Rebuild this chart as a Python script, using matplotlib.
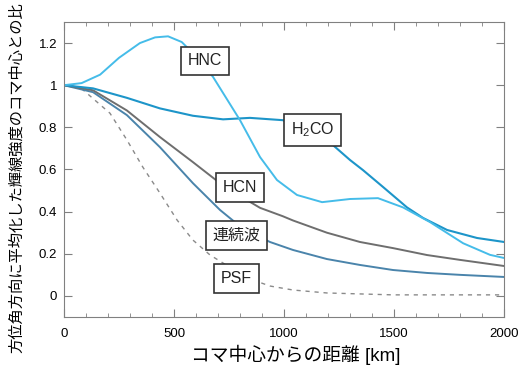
import matplotlib
matplotlib.use('Agg')
import matplotlib.pyplot as plt
from matplotlib.ticker import MultipleLocator

plt.rcParams['font.family'] = ['Liberation Sans', 'Noto Sans CJK JP', 'DejaVu Sans']
plt.rcParams['mathtext.fontset'] = 'custom'
plt.rcParams['mathtext.rm'] = 'Liberation Sans'

# values (km, ratio)
hnc_x = [0, 80, 164, 250, 345, 414, 473, 535, 588, 677, 800, 891, 968, 1059, 1173, 1300, 1427, 1541, 1664, 1814, 1936, 2000]
hnc_y = [1.0, 1.01, 1.05, 1.13, 1.20, 1.227, 1.232, 1.205, 1.15, 1.04, 0.834, 0.659, 0.55, 0.479, 0.445, 0.46, 0.464, 0.42, 0.35, 0.25, 0.195, 0.18]

h2co_x = [0, 132, 286, 436, 586, 723, 845, 995, 1100, 1209, 1300, 1359, 1450, 1559, 1632, 1741, 1877, 2000]
h2co_y = [1.0, 0.985, 0.94, 0.89, 0.855, 0.838, 0.845, 0.834, 0.79, 0.728, 0.645, 0.597, 0.517, 0.42, 0.37, 0.313, 0.275, 0.256]

hcn_x = [0, 132, 286, 436, 586, 709, 823, 891, 995, 1041, 1195, 1345, 1495, 1650, 1800, 2000]
hcn_y = [1.0, 0.976, 0.88, 0.754, 0.635, 0.535, 0.46, 0.418, 0.378, 0.358, 0.30, 0.256, 0.227, 0.194, 0.171, 0.142]

cont_x = [0, 132, 286, 436, 586, 709, 777, 850, 936, 1041, 1195, 1345, 1495, 1650, 1800, 2000]
cont_y = [1.0, 0.967, 0.858, 0.706, 0.535, 0.408, 0.35, 0.30, 0.256, 0.218, 0.175, 0.147, 0.123, 0.109, 0.10, 0.09]

psf_x = [0, 73, 209, 286, 359, 436, 514, 586, 664, 723, 820, 936, 1041, 1195, 1495, 2000]
psf_y = [1.0, 0.99, 0.867, 0.74, 0.61, 0.488, 0.36, 0.265, 0.194, 0.156, 0.09, 0.047, 0.028, 0.014, 0.005, 0.005]

labels = ['HNC', 'H$_2$CO', 'HCN', '連続波', 'PSF']
label_x = [641, 1130, 800, 784, 784]
label_y = [1.116, 0.787, 0.514, 0.287, 0.083]

fig = plt.figure(figsize=(5.22, 3.66), dpi=100)
ax = fig.add_axes([0.1226, 0.1339, 0.843, 0.806])

ax.plot(psf_x, psf_y, color='#8a8a8a', lw=1.0, ls=(0, (3, 3.5)))
ax.plot(cont_x, cont_y, color='#4a84ab', lw=1.4)
ax.plot(hcn_x, hcn_y, color='#6e6e6e', lw=1.4)
ax.plot(h2co_x, h2co_y, color='#1d95c9', lw=1.5)
ax.plot(hnc_x, hnc_y, color='#45bce9', lw=1.4)

for s, x, y in zip(labels, label_x, label_y):
    ax.text(x, y, s, fontsize=11.5, ha='center', va='center', color='#222222', zorder=5,
            bbox=dict(boxstyle='square,pad=0.42', fc='white', ec='#333333', lw=1.2))

ax.set_xlim(0, 2000)
ax.set_ylim(-0.1, 1.3)
ax.xaxis.set_major_locator(MultipleLocator(500))
ax.xaxis.set_minor_locator(MultipleLocator(100))
ax.set_yticks([0, 0.2, 0.4, 0.6, 0.8, 1.0, 1.2])
ax.set_yticklabels(['0', '0.2', '0.4', '0.6', '0.8', '1', '1.2'])
ax.tick_params(which='both', direction='in', top=True, right=True, color='#808080', labelsize=9.5)
ax.tick_params(axis='x', pad=8)
ax.tick_params(axis='y', pad=5)
ax.tick_params(which='major', length=6)
ax.tick_params(which='minor', length=3)
for sp in ax.spines.values():
    sp.set_color('#808080')

ax.set_xlabel('コマ中心からの距離 [km]', fontsize=13.5)
ax.xaxis.set_label_coords(0.527, -0.095)
ax.set_ylabel('方位角方向に平均化した輝線強度のコマ中心との比', fontsize=11)
ax.yaxis.set_label_coords(-0.09, 0.471)

fig.savefig('out.png', dpi=100)
